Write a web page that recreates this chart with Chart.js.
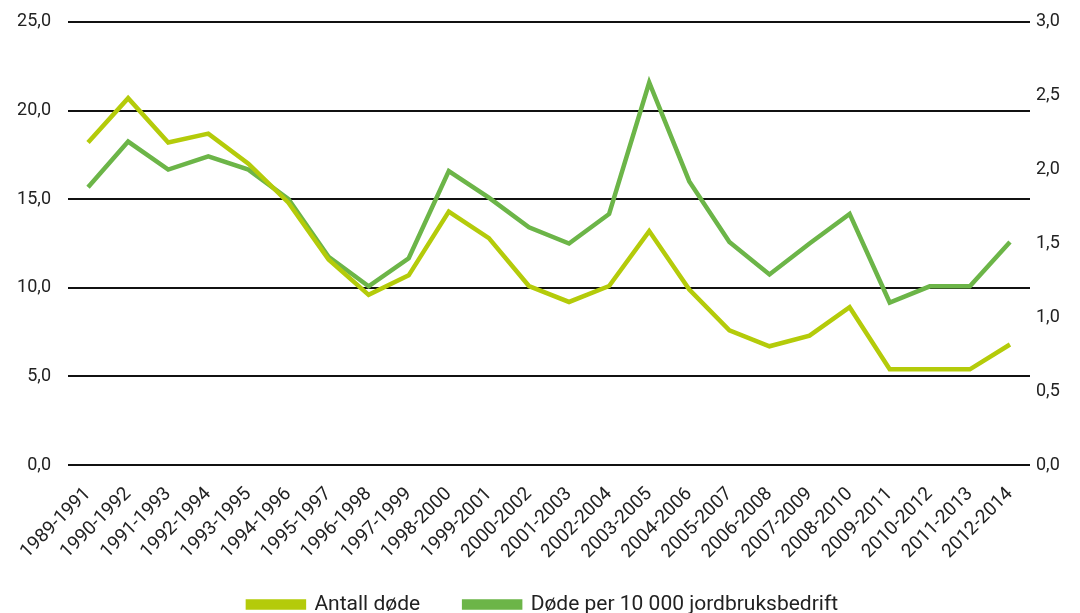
<!DOCTYPE html>
<html>
<head>
<meta charset="utf-8">
<script src="https://cdn.jsdelivr.net/npm/chart.js@4/dist/chart.umd.min.js"></script>
<style>
  html, body { margin: 0; padding: 0; background: #fff; }
  #wrap { width: 1080px; height: 613px; }
</style>
</head>
<body>
<div id="wrap"><canvas id="lineChart" width="1080" height="613"></canvas></div>
<script>
var periods = ['1989-1991', '1990-1992', '1991-1993', '1992-1994', '1993-1995', '1994-1996',
  '1995-1997', '1996-1998', '1997-1999', '1998-2000', '1999-2001', '2000-2002', '2001-2003',
  '2002-2004', '2003-2005', '2004-2006', '2005-2007', '2006-2008', '2007-2009', '2008-2010',
  '2009-2011', '2010-2012', '2011-2013', '2012-2014'];

// Antall døde (left axis)
var antallDode = [18.2, 20.7, 18.2, 18.7, 17.0, 14.8, 11.6, 9.6, 10.7, 14.3, 12.8, 10.1,
  9.2, 10.1, 13.2, 9.9, 7.6, 6.7, 7.3, 8.9, 5.4, 5.4, 5.4, 6.8];

// Døde per 10 000 jordbruksbedrift (right axis)
var dodePer10000 = [1.88, 2.19, 2.00, 2.09, 2.00, 1.80, 1.41, 1.21, 1.40, 1.99, 1.81, 1.61,
  1.50, 1.70, 2.59, 1.92, 1.51, 1.29, 1.50, 1.70, 1.10, 1.21, 1.21, 1.51];

var leftTicks = [0, 5, 10, 15, 20, 25];
var rightTicks = [0, 0.5, 1, 1.5, 2, 2.5, 3];

var fontFam = 'Roboto, "Noto Sans", sans-serif';
var comma = function(v) { return v.toFixed(1).replace('.', ','); };

// x labels hang down over the legend's top padding, so don't clip them to the axis box
var labelRoom = {
  id: 'labelRoom',
  afterLayout: function(chart) {
    chart.scales.x.bottom = chart.height;
  }
};

var ctx = document.getElementById('lineChart').getContext('2d');
var lineChart = new Chart(ctx, {
  type: 'line',
  data: {
    labels: periods,
    datasets: [{
      label: 'Antall døde',
      data: antallDode,
      yAxisID: 'y',
      borderColor: '#b4cb0a',
      backgroundColor: '#b4cb0a',
      borderWidth: 4.5,
      pointRadius: 0,
      tension: 0
    }, {
      label: 'Døde per 10 000 jordbruksbedrift',
      data: dodePer10000,
      yAxisID: 'y1',
      borderColor: '#6cb548',
      backgroundColor: '#6cb548',
      borderWidth: 4.5,
      pointRadius: 0,
      tension: 0
    }]
  },
  plugins: [labelRoom],
  options: {
    responsive: false,
    animation: false,
    layout: { padding: { top: 0, left: 8, right: 2, bottom: -12 } },
    plugins: {
      tooltip: { enabled: false },
      legend: {
        position: 'bottom',
        labels: {
          boxWidth: 56,
          boxHeight: 6,
          padding: 44,
          color: '#222',
          font: { family: fontFam, size: 21 }
        }
      }
    },
    scales: {
      x: {
        offset: true,
        afterFit: function(axis) { axis.height = 85; },
        grid: { display: false },
        border: { display: false },
        ticks: {
          color: '#222',
          font: { family: fontFam, size: 19 },
          minRotation: 45,
          maxRotation: 45,
          autoSkip: false,
          padding: 10
        }
      },
      y: {
        position: 'left',
        min: 0,
        max: 25,
        afterBuildTicks: function(axis) { axis.ticks = leftTicks.map(function(v) { return { value: v }; }); },
        afterFit: function(axis) { axis.width = 60; },
        grid: { color: '#111', lineWidth: 2, drawTicks: false },
        border: { display: false },
        ticks: {
          color: '#222',
          padding: 17,
          font: { family: fontFam, size: 18, lineHeight: 0.55 },
          callback: function(v) { return comma(v); }
        }
      },
      y1: {
        position: 'right',
        min: 0,
        max: 3,
        afterBuildTicks: function(axis) { axis.ticks = rightTicks.map(function(v) { return { value: v }; }); },
        afterFit: function(axis) { axis.width = 48; },
        grid: { display: false, drawTicks: false },
        border: { display: false },
        ticks: {
          color: '#222',
          padding: 6,
          font: { family: fontFam, size: 18, lineHeight: 0.55 },
          callback: function(v) { return comma(v); }
        }
      }
    }
  }
});
</script>
</body>
</html>
